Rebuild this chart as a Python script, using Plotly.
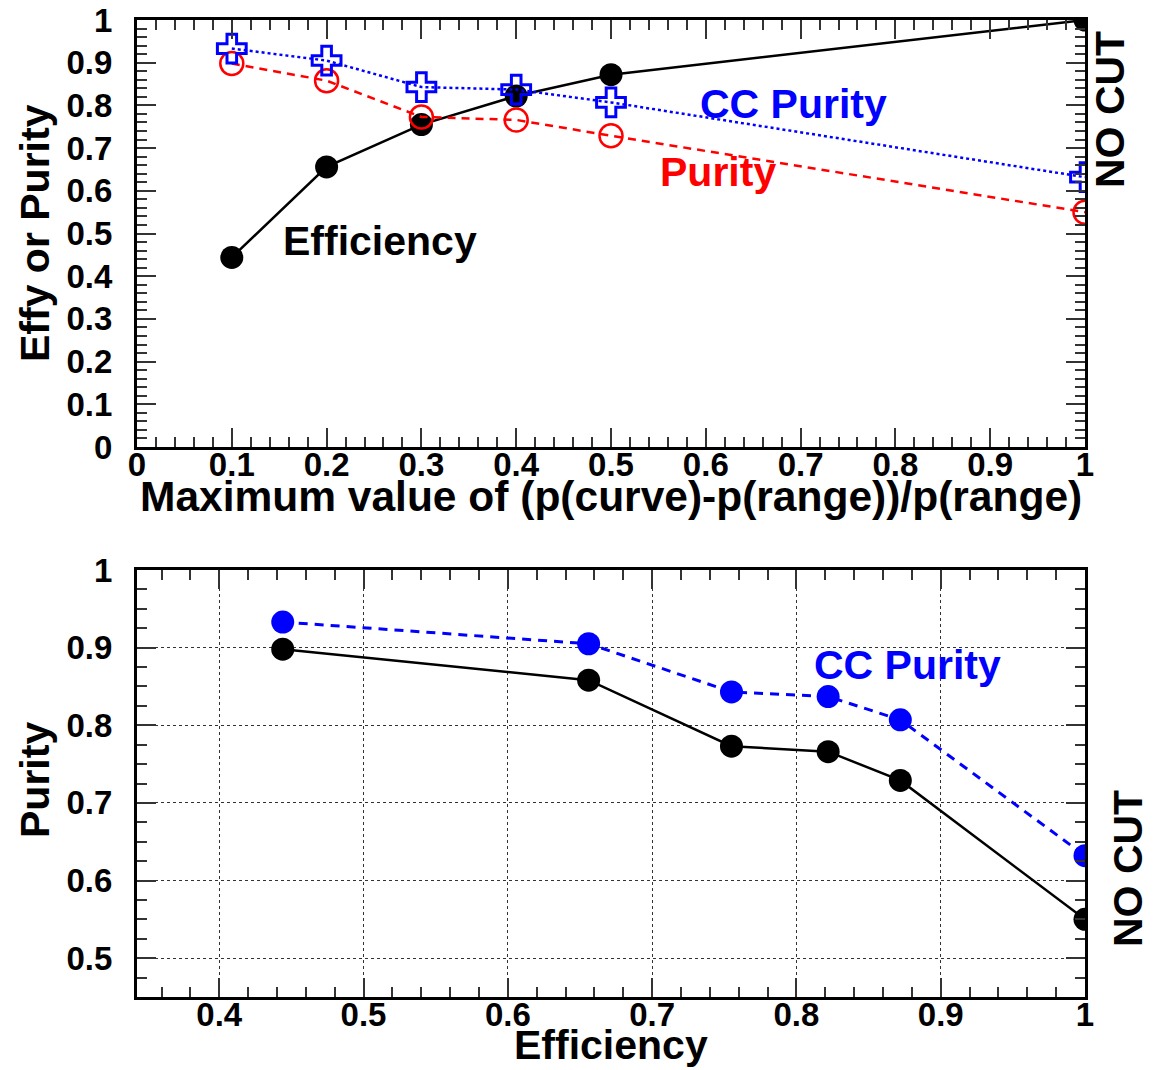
import plotly.graph_objects as go

# ---------------- data ----------------
cut_values = [0.1, 0.2, 0.3, 0.4, 0.5, 1.0]
efficiency = [0.444, 0.656, 0.755, 0.822, 0.872, 1.0]
purity = [0.898, 0.858, 0.773, 0.766, 0.729, 0.550]
cc_purity = [0.933, 0.905, 0.843, 0.837, 0.807, 0.632]

top_xticks = [0, 0.1, 0.2, 0.3, 0.4, 0.5, 0.6, 0.7, 0.8, 0.9, 1.0]
top_xlabels = ["0", "0.1", "0.2", "0.3", "0.4", "0.5", "0.6", "0.7", "0.8", "0.9", "1"]
top_yticks = [0, 0.1, 0.2, 0.3, 0.4, 0.5, 0.6, 0.7, 0.8, 0.9, 1.0]
top_ylabels = ["0", "0.1", "0.2", "0.3", "0.4", "0.5", "0.6", "0.7", "0.8", "0.9", "1"]
bot_xticks = [0.4, 0.5, 0.6, 0.7, 0.8, 0.9, 1.0]
bot_xlabels = ["0.4", "0.5", "0.6", "0.7", "0.8", "0.9", "1"]
bot_yticks = [0.5, 0.6, 0.7, 0.8, 0.9, 1.0]
bot_ylabels = ["0.5", "0.6", "0.7", "0.8", "0.9", "1"]

W, H = 1158, 1070
FONT = "Liberation Sans, Arial, sans-serif"


def px_x(x):
    return x / W


def px_y(y):
    return 1 - y / H


fig = go.Figure()

# top panel
fig.add_trace(go.Scatter(x=cut_values, y=efficiency, mode="lines+markers",
                         line=dict(color="black", width=2.5),
                         marker=dict(symbol="circle", size=23, color="black"),
                         xaxis="x", yaxis="y", showlegend=False))
fig.add_trace(go.Scatter(x=cut_values, y=purity, mode="lines+markers",
                         line=dict(color="#ff0000", width=2.5, dash="8px,6px"),
                         marker=dict(symbol="circle-open", size=23, color="#ff0000",
                                     line=dict(width=2.5, color="#ff0000")),
                         xaxis="x", yaxis="y", showlegend=False))
fig.add_trace(go.Scatter(x=cut_values, y=cc_purity, mode="lines+markers",
                         line=dict(color="#0000ff", width=2.5, dash="dot"),
                         marker=dict(symbol="cross-open", size=24, color="#0000ff",
                                     line=dict(width=3, color="#0000ff")),
                         xaxis="x", yaxis="y", showlegend=False))

# bottom panel
fig.add_trace(go.Scatter(x=efficiency, y=purity, mode="lines+markers",
                         line=dict(color="black", width=2.5),
                         marker=dict(symbol="circle", size=23, color="black"),
                         xaxis="x2", yaxis="y2", showlegend=False))
fig.add_trace(go.Scatter(x=efficiency, y=cc_purity, mode="lines+markers",
                         line=dict(color="#0000ff", width=3, dash="9px,7px"),
                         marker=dict(symbol="circle", size=23, color="#0000ff"),
                         xaxis="x2", yaxis="y2", showlegend=False))

tickfont = dict(family=FONT, size=33, color="black", weight="bold")
common = dict(showline=True, linecolor="black", linewidth=3, mirror="ticks",
              ticks="inside", ticklen=19, tickwidth=1.5, tickcolor="#333",
              tickfont=tickfont, zeroline=False, fixedrange=True,
              automargin=False)

xdom = [px_x(137), px_x(1085)]
fig.update_layout(
    width=W, height=H,
    margin=dict(l=0, r=0, t=0, b=0, autoexpand=False),
    paper_bgcolor="white", plot_bgcolor="white",
    xaxis=dict(domain=xdom, anchor="y", range=[0, 1.0], tickvals=top_xticks,
               ticktext=top_xlabels, showgrid=False,
               minor=dict(dtick=0.02, tick0=0, ticks="inside", ticklen=10,
                          tickwidth=1.5, tickcolor="#333", showgrid=False),
               ticklabelstandoff=-14, **common),
    yaxis=dict(domain=[px_y(447), px_y(20)], anchor="x", range=[0, 1.0],
               tickvals=top_yticks, ticktext=top_ylabels, showgrid=False,
               minor=dict(dtick=0.02, tick0=0, ticks="inside", ticklen=10,
                          tickwidth=1.5, tickcolor="#333", showgrid=False),
               ticklabelstandoff=15, **common),
    xaxis2=dict(domain=xdom, anchor="y2", range=[0.343, 1.0], tickvals=bot_xticks,
                ticktext=bot_xlabels, showgrid=True, gridcolor="#333",
                griddash="dot", gridwidth=1.2,
                minor=dict(dtick=0.02, tick0=0, ticks="inside", ticklen=10,
                           tickwidth=1.5, tickcolor="#333", showgrid=False),
                ticklabelstandoff=-14, **common),
    yaxis2=dict(domain=[px_y(997), px_y(570)], anchor="x2", range=[0.45, 1.0],
                tickvals=bot_yticks, ticktext=bot_ylabels, showgrid=True,
                gridcolor="#333", griddash="dot", gridwidth=1.2,
                minor=dict(dtick=0.025, tick0=0, ticks="inside", ticklen=10,
                           tickwidth=1.5, tickcolor="#333", showgrid=False),
                ticklabelstandoff=15, **common),
)

big = 41


def txt(text, x, y, color="black", angle=0, size=big):
    fig.add_annotation(text=text, x=px_x(x), y=px_y(y), xref="paper", yref="paper",
                       showarrow=False, textangle=angle, xanchor="center",
                       yanchor="middle",
                       font=dict(family=FONT, size=size, color=color, weight="bold"))


# axis titles
txt("Maximum value of (p(curve)-p(range))/p(range)", 611, 496, size=42.5)
txt("Effy or Purity", 35, 233, angle=-90)
txt("Efficiency", 611, 1045)
txt("Purity", 35, 780, angle=-90)

# labels in the plot
txt("Efficiency", 380, 241)
txt("CC Purity", 793, 104, color="#0000ff")
txt("Purity", 718, 172, color="#ff0000")
txt("NO CUT", 1110, 110, angle=-90)
txt("CC Purity", 907, 665, color="#0000ff")
txt("NO CUT", 1128, 869, angle=-90)

fig.write_html("out.html")
